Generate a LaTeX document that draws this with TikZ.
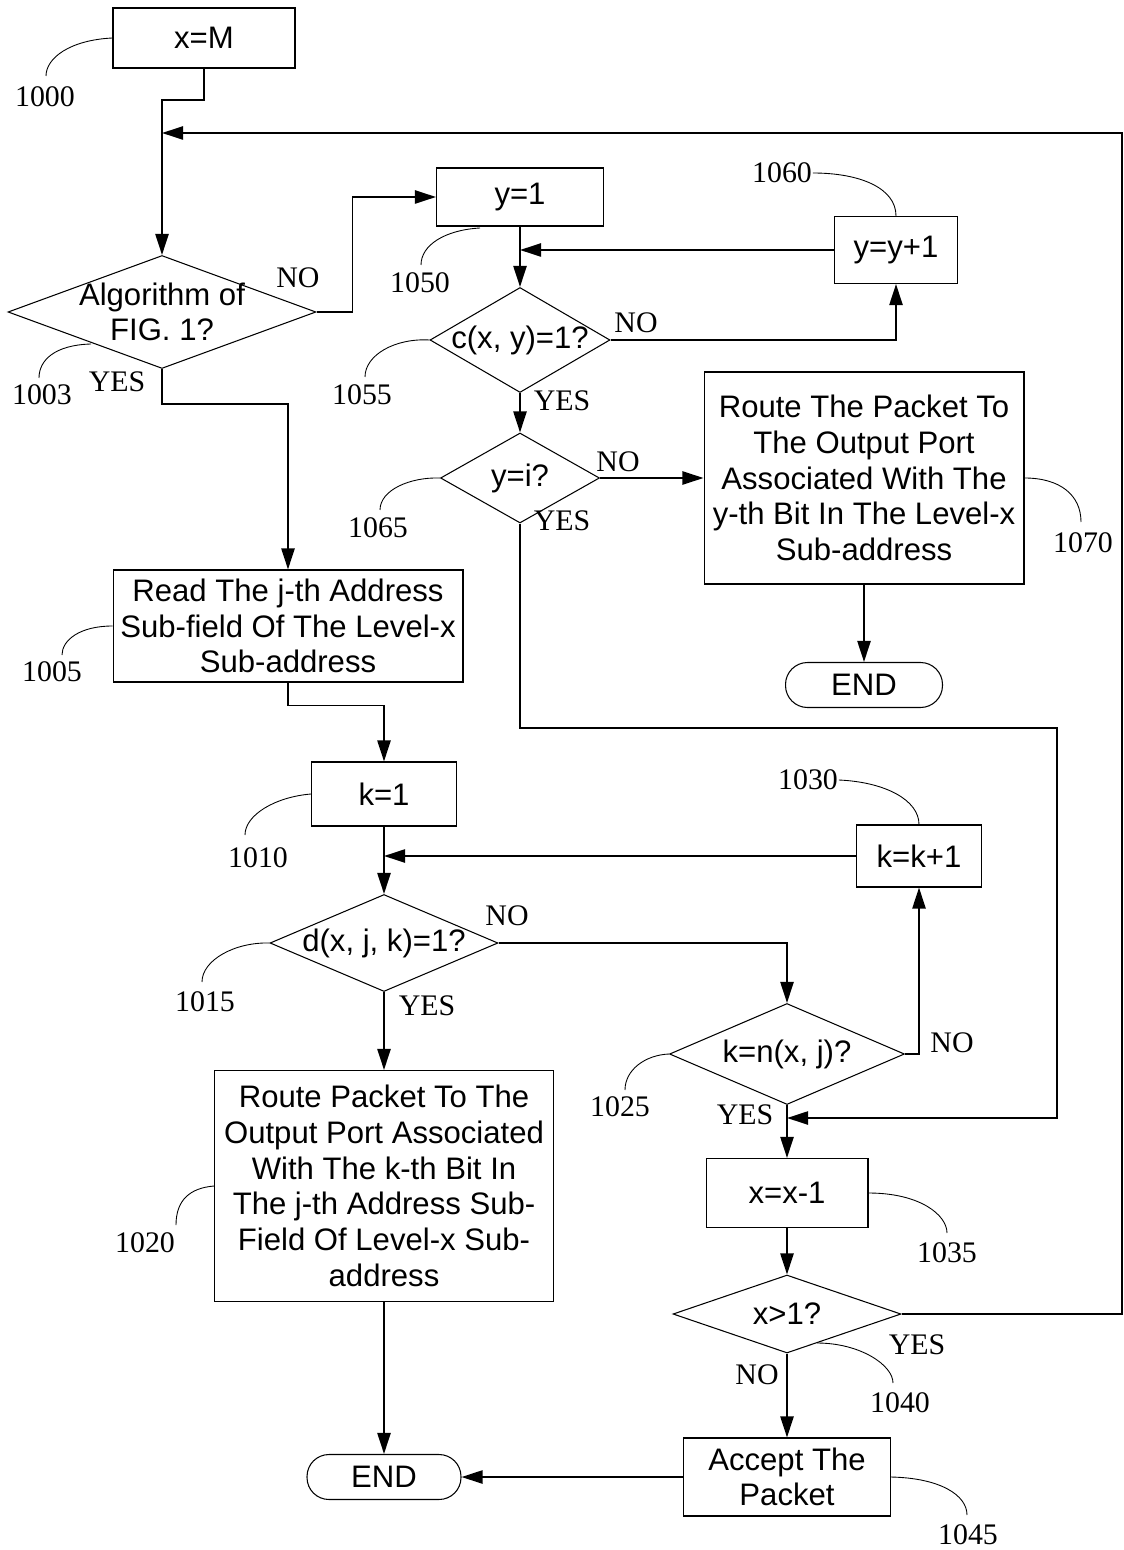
\documentclass[tikz,border=0pt]{standalone}
\usepackage{fontspec}
\setmainfont{Liberation Serif}
\newfontfamily\arialfont{Liberation Sans}
\usetikzlibrary{shapes.geometric,arrows.meta}

\begin{document}
\begin{tikzpicture}[x=0.02cm,y=-0.02cm,line width=1.1pt,
  flow/.style={-{Triangle[length=12pt,width=7.5pt]}},
  blk/.style={draw,line width=0.6pt,inner sep=0pt,align=center,
    font=\arialfont\fontsize{17.7}{20.3}\selectfont},
  dec/.style={draw,diamond,line width=0.6pt,inner sep=0pt},
  dtext/.style={align=center,inner sep=0pt,font=\arialfont\fontsize{17.7}{20.3}\selectfont},
  term/.style={blk,rounded corners=12.5pt},
  ans/.style={inner sep=0pt,font=\fontsize{17}{17}\selectfont},
  lead/.style={line width=0.5pt}]
\useasboundingbox (0,0) rectangle (1123,1550);

% boxes
\node[blk,minimum width=3.64cm,minimum height=1.2cm] (xm) at (204,38) {x=M};
\node[dec,minimum width=6.16cm,minimum height=2.26cm,
  label={[dtext]center:{Algorithm of\\FIG. 1?}}] (alg) at (162,312) {};
\node[blk,minimum width=3.34cm,minimum height=1.16cm] (y1) at (520,197) {y=1};
\node[blk,minimum width=2.46cm,minimum height=1.34cm] (yinc) at (896,250) {y=y+1};
\node[dec,minimum width=3.6cm,minimum height=2.1cm,
  label={[dtext]center:{c(x, y)=1?}}] (cxy) at (520,340) {};
\node[dec,minimum width=3.18cm,minimum height=1.8cm,
  label={[dtext]center:{y=i?}}] (yi) at (520,478) {};
\node[blk,minimum width=6.4cm,minimum height=4.24cm] (rt1) at (864,478)
  {Route The Packet To\\The Output Port\\Associated With The\\y-th Bit In The Level-x\\Sub-address};
\node[term,minimum width=3.14cm,minimum height=0.9cm] (end1) at (864,685) {END};
\node[blk,minimum width=7cm,minimum height=2.24cm] (read) at (288,626)
  {Read The j-th Address\\Sub-field Of The Level-x\\Sub-address};
\node[blk,minimum width=2.9cm,minimum height=1.28cm] (k1) at (384,794) {k=1};
\node[blk,minimum width=2.5cm,minimum height=1.24cm] (kinc) at (919,856) {k=k+1};
\node[dec,minimum width=4.56cm,minimum height=1.94cm,
  label={[dtext]center:{d(x, j, k)=1?}}] (d) at (384,943) {};
\node[blk,minimum width=6.78cm,minimum height=4.62cm] (rt2) at (384,1186)
  {Route Packet To The\\Output Port Associated\\With The k-th Bit In\\The j-th Address Sub-\\Field Of Level-x Sub-\\address};
\node[term,minimum width=3.08cm,minimum height=0.9cm] (end2) at (384,1477) {END};
\node[dec,minimum width=4.7cm,minimum height=2.02cm,
  label={[dtext]center:{k=n(x, j)?}}] (kn) at (787,1054) {};
\node[blk,minimum width=3.24cm,minimum height=1.38cm] (xdec) at (787,1193) {x=x-1};
\node[dec,minimum width=4.56cm,minimum height=1.56cm,
  label={[dtext]center:{x>1?}}] (xgt) at (787,1314) {};
\node[blk,minimum width=4.14cm,minimum height=1.56cm] (acc) at (787,1477) {Accept The\\Packet};

% connectors
\coordinate (b1) at (162,100);
\coordinate (rr) at (1122,133);
\coordinate (ret) at (162,133);
\coordinate (ya) at (1057,728);
\coordinate (yb) at (787,1118);
\draw[flow] (xm.south) |- (b1) -- (alg.north);
\draw[flow] (xgt.east) -| (rr) -- (ret);
\draw[flow] (alg.east) -- ++(36,0) |- (y1.west);
\draw[flow] (y1.south) -- (cxy.north);
\draw[flow] (yinc.west) -- (yinc.west -| y1.south);
\draw[flow] (cxy.east) -| (yinc.south);
\draw[flow] (cxy.south) -- (yi.north);
\draw[flow] (yi.east) -- (rt1.west);
\draw[flow] (yi.south) |- (ya) |- (yb);
\draw[flow] (rt1.south) -- (end1.north);
\draw[flow] (alg.south) -- ++(0,35) -| (read.north);
\draw[flow] (read.south) -- ++(0,23) -| (k1.north);
\draw[flow] (k1.south) -- (d.north);
\draw[flow] (kinc.west) -- (kinc.west -| k1.south);
\draw[flow] (d.east) -| (kn.north);
\draw[flow] (d.south) -- (rt2.north);
\draw[flow] (rt2.south) -- (end2.north);
\draw[flow] (kn.east) -| (kinc.south);
\draw[flow] (kn.south) -- (xdec.north);
\draw[flow] (xdec.south) -- (xgt.north);
\draw[flow] (xgt.south) -- (acc.north);
\draw[flow] (acc.west) -- (end2.east);

% yes / no
\node[ans] (n1) at (298,278) {NO};
\node[ans] (y1l) at (117,382) {YES};
\node[ans] (n2) at (636,323) {NO};
\node[ans] (y2l) at (562,401) {YES};
\node[ans] (n3) at (618,462) {NO};
\node[ans] (y3l) at (562,521) {YES};
\node[ans] (n4) at (507,916) {NO};
\node[ans] (y4l) at (427,1006) {YES};
\node[ans] (n5) at (952,1043) {NO};
\node[ans] (y5l) at (745,1115) {YES};
\node[ans] (y6l) at (917,1345) {YES};
\node[ans] (n6) at (757,1375) {NO};

% reference numerals
\node[ans] (l1000) at (45,97) {1000};
\node[ans] (l1003) at (42,395) {1003};
\node[ans] (l1050) at (420,283) {1050};
\node[ans] (l1055) at (362,395) {1055};
\node[ans] (l1060) at (782,173) {1060};
\node[ans] (l1065) at (378,528) {1065};
\node[ans] (l1070) at (1083,543) {1070};
\node[ans] (l1005) at (52,672) {1005};
\node[ans] (l1010) at (258,858) {1010};
\node[ans] (l1030) at (808,780) {1030};
\node[ans] (l1015) at (205,1002) {1015};
\node[ans] (l1020) at (145,1243) {1020};
\node[ans] (l1025) at (620,1107) {1025};
\node[ans] (l1035) at (947,1253) {1035};
\node[ans] (l1040) at (900,1403) {1040};
\node[ans] (l1045) at (968,1535) {1045};
\draw[lead] (xm.west) .. controls (70,40) and (46,58) .. (46,76);
\draw[lead] (91,344) .. controls (55,345) and (39,360) .. (39,378);
\draw[lead] (480,228) .. controls (445,230) and (421,245) .. (421,265);
\draw[lead] (cxy.west) .. controls (395,338) and (365,355) .. (365,377);
\draw[lead] (l1060.east) .. controls (860,173) and (896,188) .. (yinc.north);
\draw[lead] (yi.west) .. controls (410,477) and (380,490) .. (380,510);
\draw[lead] (rt1.east) .. controls (1060,478) and (1081,495) .. (1081,522);
\draw[lead] (read.west) .. controls (80,626) and (62,640) .. (62,655);
\draw[lead] (k1.west) .. controls (275,797) and (245,815) .. (245,835);
\draw[lead] (l1030.east) .. controls (885,782) and (919,800) .. (kinc.north);
\draw[lead] (d.west) .. controls (235,942) and (202,960) .. (202,982);
\draw[lead] (rt2.west) .. controls (190,1188) and (176,1200) .. (176,1225);
\draw[lead] (kn.west) .. controls (645,1055) and (625,1070) .. (625,1090);
\draw[lead] (xdec.east) .. controls (920,1193) and (947,1215) .. (947,1233);
\draw[lead] (817,1343) .. controls (860,1343) and (893,1365) .. (893,1383);
\draw[lead] (acc.east) .. controls (940,1478) and (967,1495) .. (967,1515);
\end{tikzpicture}
\end{document}
